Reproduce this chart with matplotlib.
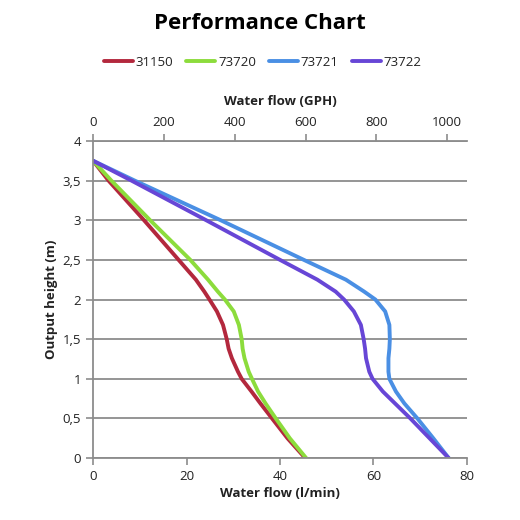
import matplotlib.pyplot as plt

# output height (m) and water flow (l/min)
heights = [3.75, 3.5, 3.0, 2.5, 2.25, 2.1, 2.0, 1.85, 1.68, 1.5, 1.38, 1.26,
           1.09, 1.0, 0.84, 0.69, 0.5, 0.25, 0.0]
q_31150 = [0.0, 3.3, 10.9, 18.3, 22.0, 23.8, 24.9, 26.5, 27.8, 28.6, 29.0, 29.7,
           31.0, 31.8, 33.9, 35.8, 38.3, 41.6, 45.4]
q_73720 = [0.0, 3.9, 12.2, 20.8, 24.6, 26.7, 28.2, 30.1, 31.2, 31.8, 32.0, 32.4,
           33.3, 34.0, 35.3, 36.9, 39.1, 42.1, 45.6]
q_73721 = [0.0, 8.9, 27.3, 45.1, 54.1, 58.0, 60.4, 62.5, 63.4, 63.5, 63.4, 63.2,
           63.2, 63.4, 64.8, 66.6, 69.4, 72.8, 76.1]
q_73722 = [0.0, 8.2, 24.2, 40.0, 48.0, 51.9, 53.7, 55.8, 57.3, 57.9, 58.2, 58.4,
           59.1, 59.8, 62.0, 64.6, 67.9, 72.0, 76.1]

series = [
    ('31150', q_31150, '#B3283D'),
    ('73720', q_73720, '#8CDC3C'),
    ('73721', q_73721, '#4A8FE4'),
    ('73722', q_73722, '#6746D6'),
]

y_ticks = [0, 0.5, 1, 1.5, 2, 2.5, 3, 3.5, 4]
y_labels = ['0', '0,5', '1', '1,5', '2', '2,5', '3', '3,5', '4']
x_ticks = [0, 20, 40, 60, 80]
gph_ticks = [0, 200, 400, 600, 800, 1000]

plt.rcParams['font.family'] = ['Open Sans', 'DejaVu Sans']
grid_col = '#8c8c8c'
text_col = '#222222'

fig = plt.figure(figsize=(5.2, 5.2), dpi=100)
ax = fig.add_axes([0.179, 0.119, 0.719, 0.610])

for name, q, col in series:
    ax.plot(q, heights, color=col, lw=2.8, label=name, solid_capstyle='round',
            solid_joinstyle='round')

ax.set_xlim(0, 80)
ax.set_ylim(0, 4)
ax.set_xticks(x_ticks)
ax.set_yticks(y_ticks)
ax.set_yticklabels(y_labels)
ax.yaxis.grid(True, color=grid_col, lw=1.3)
ax.set_axisbelow(True)
for s in ['right', 'top']:
    ax.spines[s].set_visible(False)
for s in ['left', 'bottom']:
    ax.spines[s].set_color(grid_col)
    ax.spines[s].set_linewidth(1.3)
ax.tick_params(colors=grid_col, labelcolor=text_col, labelsize=9.5,
               length=5, width=1.2, direction='out')
ax.set_xlabel('Water flow (l/min)', fontsize=9.5, fontweight='bold',
              color=text_col, labelpad=3)
ax.set_ylabel('Output height (m)', fontsize=9.5, fontweight='bold',
              color=text_col, labelpad=3)

# top axis in GPH (imperial gallons per hour)
top = ax.twiny()
top.set_xlim(0, 80 * 60 / 4.546)
top.set_xticks(gph_ticks)
for s in ['right', 'left', 'bottom']:
    top.spines[s].set_visible(False)
top.spines['top'].set_color(grid_col)
top.spines['top'].set_linewidth(1.3)
top.tick_params(colors=grid_col, labelcolor=text_col, labelsize=9.5,
                length=5, width=1.2, direction='out')
top.set_xlabel('Water flow (GPH)', fontsize=9.5, fontweight='bold',
               color=text_col, labelpad=8)

fig.suptitle('Performance Chart', x=0.50, y=0.975, fontsize=16,
             fontweight='bold', color='black')
fig.legend(loc='center', bbox_to_anchor=(0.505, 0.880), ncol=4,
           frameon=False, fontsize=9.5, handlelength=2.2, handletextpad=0.2,
           columnspacing=1.0, labelcolor=text_col)

fig.savefig('out.png', dpi=100)
